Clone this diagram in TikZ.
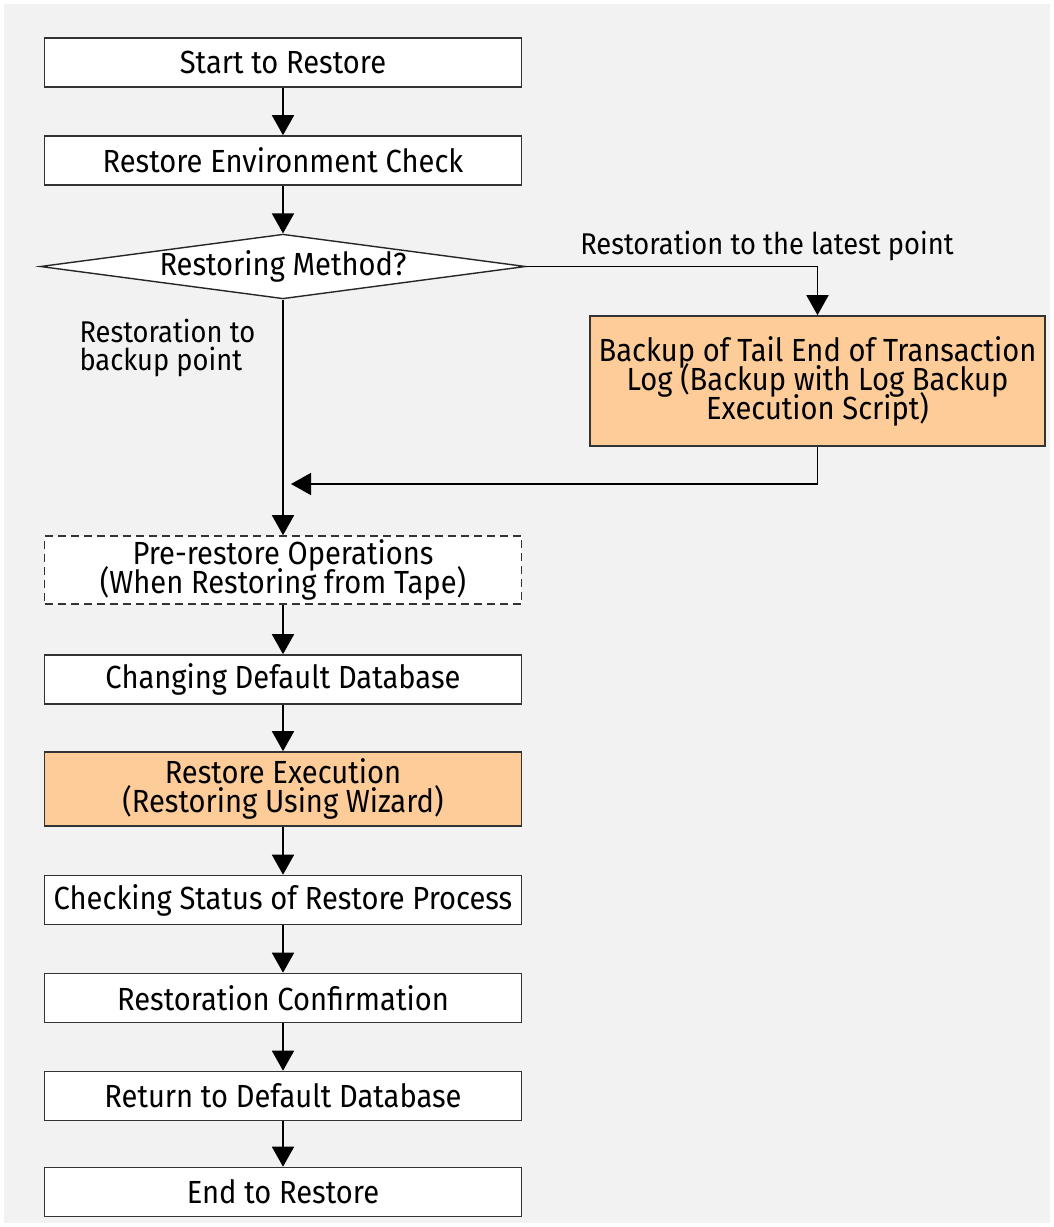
\documentclass[tikz,border=0pt]{standalone}
\usepackage{fontspec}
\setmainfont{Fira Sans}[FakeStretch=0.91]
\usetikzlibrary{arrows.meta,shapes.geometric}
\definecolor{RSpeach}{RGB}{253,204,153}
\definecolor{RSback}{RGB}{242,242,242}
\newcommand\RStight{\lineskiplimit=-40pt\relax}
\tikzset{RSbox/.style={draw=black!80,line width=1.6pt,fill=white,minimum width=477pt,minimum height=49pt,inner sep=0pt,align=center,font=\fontsize{32}{29}\selectfont\RStight},
         RSacc/.style={RSbox,fill=RSpeach},
         RSdsh/.style={RSbox,dashed,dash pattern=on 8pt off 5pt},
         RSdec/.style={diamond,draw=black!85,line width=1.4pt,fill=white,aspect=7.5,inner sep=0pt,minimum width=475pt,minimum height=63pt,font=\fontsize{32}{30}\selectfont},
         RSlab/.style={font=\fontsize{30}{28}\selectfont,align=left},
         RSarr/.style={line width=1.6pt,-{Triangle[width=22pt,length=20pt]}}}

\begin{document}
\begin{tikzpicture}[x=1pt,y=-1pt]
    \useasboundingbox (0,0) rectangle (1054,1227);
    \fill[RSback] (4,4) rectangle (1050,1223);
    \node[RSbox] (s1) at (283,62.5) {Start to Restore};
    \node[RSbox] (s2) at (283,160.5) {Restore Environment Check};
    \node[RSdec] (dm) at (283,266.5) {Restoring Method?};
    \node[RSacc,minimum width=455pt,minimum height=130pt] (tl) at (817.5,381) {Backup of Tail End of Transaction\\Log (Backup with Log Backup\\Execution Script)};
    \node[RSdsh,minimum height=68pt] (pre) at (283,570) {Pre-restore Operations\\(When Restoring from Tape)};
    \node[RSbox] (s3) at (283,679.5) {Changing Default Database};
    \node[RSacc,minimum height=74pt] (s4) at (283,789) {Restore Execution\\(Restoring Using Wizard)};
    \node[RSbox] (s5) at (283,900) {Checking Status of Restore Process};
    \node[RSbox] (s6) at (283,998) {Restoration Confirmation};
    \node[RSbox] (s7) at (283,1096) {Return to Default Database};
    \node[RSbox] (s8) at (283,1192) {End to Restore};
    \node[RSlab] (ll) at (767,246) {Restoration to the latest point};
    \node[RSlab,anchor=west] (lb) at (76,348) {Restoration to\\backup point};
    \coordinate (mg) at (291,484);
    \foreach \i/\j in {s1/s2,s2/dm,dm/pre,pre/s3,s3/s4,s4/s5,s5/s6,s6/s7,s7/s8} \draw[RSarr] (\i)--(\j);
    \draw[RSarr] (dm.east) -| (tl.north);
    \draw[RSarr] (tl.south) |- (mg);
  \end{tikzpicture}
\end{document}
